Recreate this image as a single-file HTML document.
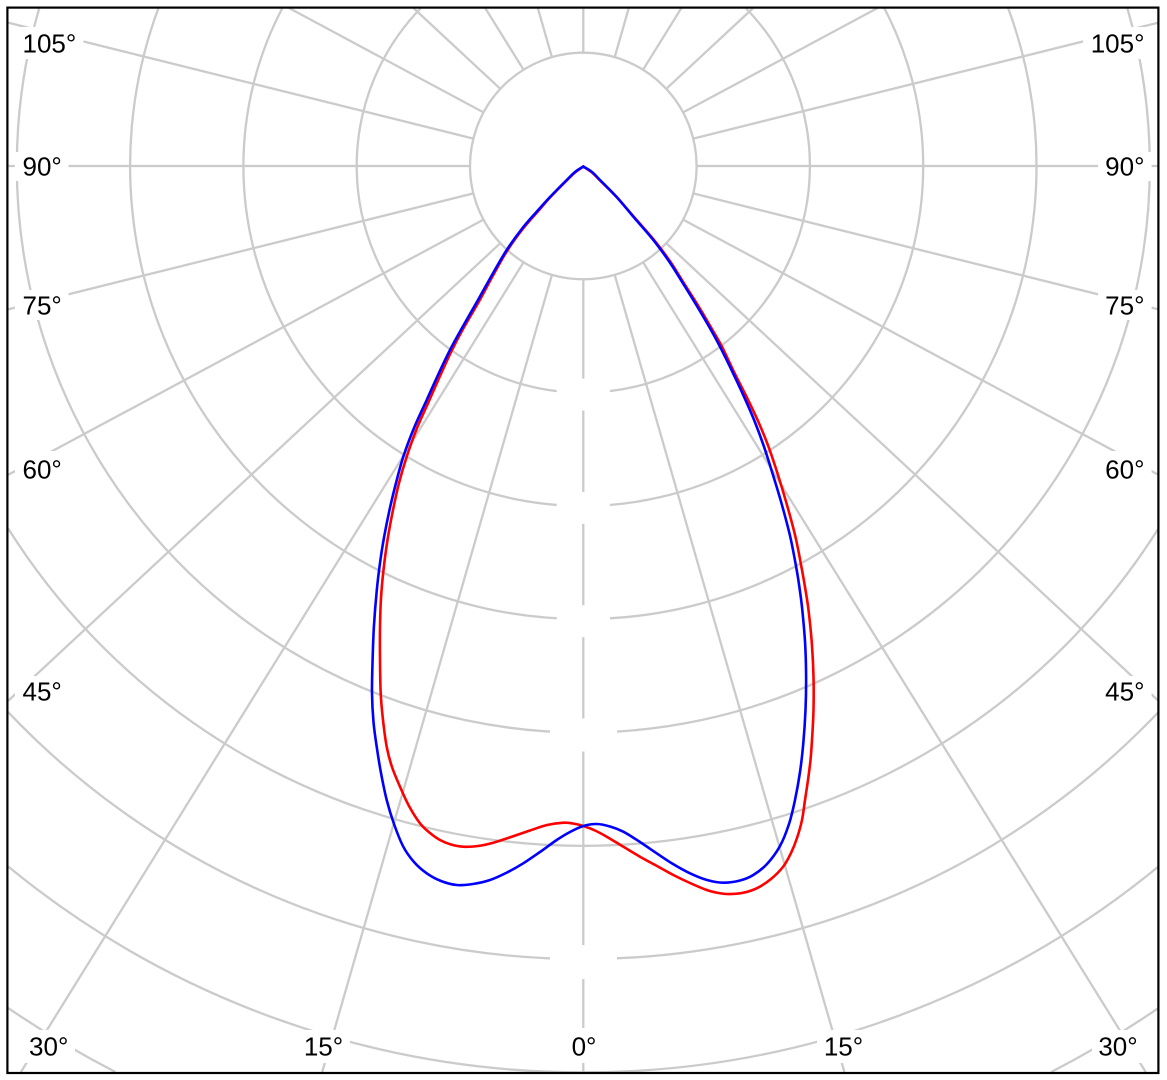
<!DOCTYPE html>
<html>
<head>
<meta charset="utf-8">
<style>
html,body{margin:0;padding:0;background:#fff;width:1167px;height:1080px;overflow:hidden;}
svg{display:block;position:absolute;left:0;top:0;}
text{font-family:"Liberation Sans",Arial,sans-serif;font-size:26px;fill:#000;}
</style>
</head>
<body>
<svg width="1167" height="1080" viewBox="0 0 1167 1080" xmlns="http://www.w3.org/2000/svg" overflow="hidden">
<rect x="0" y="0" width="1167" height="1080" fill="#fff"/>
<g fill="none" stroke="#cbcbcb" stroke-width="2.3">
  <circle cx="583.3" cy="166" r="113.3"/>
  <path d="M420.9 8 A226.6 226.6 0 1 0 745.7 8"/>
  <path d="M282.4 8 A339.9 339.9 0 1 0 884.2 8"/>
  <path d="M158.5 8 A453.2 453.2 0 1 0 1008.1 8"/>
  <path d="M39.3 8 A566.5 566.5 0 1 0 1127.3 8"/>
  <path d="M8 528.2 A679.8 679.8 0 0 0 1158.6 528.2"/>
  <path d="M8 711.9 A793.1 793.1 0 0 0 1158.6 711.9"/>
  <path d="M8 866.4 A906.4 906.4 0 0 0 1158.6 866.4"/>
  <path d="M8 1007.9 A1019.7 1019.7 0 0 0 115.4 1072"/>
  <path d="M1051.2 1072 A1019.7 1019.7 0 0 0 1158.6 1007.9"/>
  <line x1="583.3" y1="279.3" x2="583.3" y2="1072"/>
  <line x1="583.3" y1="52.7" x2="583.3" y2="8"/>
  <line x1="551.9" y1="274.9" x2="322.2" y2="1072"/>
  <line x1="523.5" y1="262.3" x2="20.9" y2="1072"/>
  <line x1="500.3" y1="243.2" x2="8" y2="701"/>
  <line x1="483.5" y1="219.6" x2="8" y2="474.9"/>
  <line x1="473.4" y1="193.4" x2="8" y2="309.4"/>
  <line x1="470" y1="166" x2="8" y2="166"/>
  <line x1="473.4" y1="138.6" x2="8" y2="22.6"/>
  <line x1="483.5" y1="112.4" x2="289" y2="8"/>
  <line x1="500.3" y1="88.8" x2="413.4" y2="8"/>
  <line x1="523.5" y1="69.7" x2="485.2" y2="8"/>
  <line x1="551.9" y1="57.1" x2="537.8" y2="8"/>
  <line x1="614.7" y1="274.9" x2="844.4" y2="1072"/>
  <line x1="643.1" y1="262.3" x2="1145.7" y2="1072"/>
  <line x1="666.3" y1="243.2" x2="1158.6" y2="701"/>
  <line x1="683.1" y1="219.6" x2="1158.6" y2="474.9"/>
  <line x1="693.2" y1="193.4" x2="1158.6" y2="309.4"/>
  <line x1="696.6" y1="166" x2="1158.6" y2="166"/>
  <line x1="693.2" y1="138.6" x2="1158.6" y2="22.6"/>
  <line x1="683.1" y1="112.4" x2="877.6" y2="8"/>
  <line x1="666.3" y1="88.8" x2="753.2" y2="8"/>
  <line x1="643.1" y1="69.7" x2="681.4" y2="8"/>
  <line x1="614.7" y1="57.1" x2="628.8" y2="8"/>
</g>
<g fill="#fff">
  <rect x="556.7" y="378.6" width="53.3" height="32"/>
  <rect x="556.7" y="491.9" width="53.3" height="32"/>
  <rect x="556.7" y="605.2" width="53.3" height="32"/>
  <rect x="550" y="718.5" width="67" height="33"/>
  <rect x="550" y="945.1" width="67" height="34"/>
  <rect x="15" y="27" width="68.5" height="32"/>
  <rect x="15" y="152" width="53.5" height="29"/>
  <rect x="15" y="290" width="53.5" height="30"/>
  <rect x="15" y="451" width="53" height="33"/>
  <rect x="15" y="676" width="54" height="32"/>
  <rect x="1083.1" y="27" width="68.5" height="32"/>
  <rect x="1098.1" y="152" width="53.5" height="29"/>
  <rect x="1098.1" y="290" width="53.5" height="30"/>
  <rect x="1098.6" y="451" width="53" height="33"/>
  <rect x="1097.6" y="676" width="54" height="32"/>
  <rect x="22" y="1030" width="53" height="33"/>
  <rect x="298" y="1030" width="52" height="33"/>
  <rect x="566" y="1028" width="35" height="35"/>
  <rect x="817" y="1030" width="52" height="33"/>
  <rect x="1092" y="1030" width="53" height="33"/>
</g>
<polyline class="crv" fill="none" stroke="#ff0000" stroke-width="2.6" stroke-linejoin="round" stroke-linecap="round" points="583.3,166.5 575,172.5 566.7,180.5 550,197.5 540,209 523.5,228 507,251 493,275.5 479.5,300.5 463,329 451.5,351 440,376 429,401 417,428 406.7,456.7 399,483 393,510 387.5,540 383.5,570 381,598 380,626.7 380,660 380.7,693.3 383,720 386.7,746.7 392,767 400,786.7 409,806 420,823.3 430,833 440,840 451,844.5 463.3,846.7 478,846 493.3,842.7 511,837 530,830.5 547,825 563.3,822.7 573,823.5 583.3,826 595,830.5 606.7,836.7 623,846.5 640,856.7 657,866 673.3,875 690,883 706.7,890 716,892.5 726.7,894 742,893 756.7,888.3 771,879 783.3,866.5 791,853 797,838 802,820 805,800 808,780 810.5,760 812,740 813.5,710 813.5,676.7 811.8,643 808.5,610 805.5,590 802,570 795.5,537 786.5,503.3 778,475 768.5,446.7 758,421 746.5,396.7 734,372 722,346.7 712.5,330 699,307 685,285 670.5,262 654,240 634,217 617,197.5 600,180.5 592,172.5 583.3,166.5"/>
<polyline class="crv" fill="none" stroke="#0000ff" stroke-width="2.6" stroke-linejoin="round" stroke-linecap="round" points="583.3,166.5 575,172 566.7,180 550,197 540,208 523.3,227 506.7,250 492,275 478,300 462,328 450,350 438,375 426.7,400 414,428 403.3,456.7 396,483 389.5,510 384.1,537 380.4,560 376.8,590 373.9,626.7 372.6,660 372,693.3 373.5,722 376.7,746.7 381,773 386.7,800 394,824 403.3,846.7 414,862 426.7,873.3 441,881 456.7,885 473,884 490,880 507,872.5 523.3,863.3 540,852 556.7,840 570,832 583.3,826 596.7,824 610,826.5 623.3,831.7 640,842 656.7,853.3 673,864 690,873.3 707,880 723.3,882.7 740,880.5 753.3,875 767,864 780,846 789,824 795,800 800,772 803.3,743.3 805.5,710 806.1,676.7 805.1,643 802.3,610 799.8,590 796.7,570 790.3,537 781.5,503.3 773,475 764,446.7 754.5,421 744,396.7 732.5,372 720,346.7 711,330 697.5,307 684,285 669.5,262 653.3,240 633.3,216.7 616.7,197 600,180 592,172 583.3,166.5"/>
<g>
 <text x="22.5" y="52.3">105°</text>
 <text x="22.5" y="175.6">90°</text>
 <text x="22.5" y="314.3">75°</text>
 <text x="22.5" y="478.5">60°</text>
 <text x="22.5" y="700.5">45°</text>
 <text x="1144.5" y="52.3" text-anchor="end">105°</text>
 <text x="1144.5" y="175.6" text-anchor="end">90°</text>
 <text x="1144.5" y="314.3" text-anchor="end">75°</text>
 <text x="1144.5" y="478.5" text-anchor="end">60°</text>
 <text x="1144.5" y="700.5" text-anchor="end">45°</text>
 <text x="48.7" y="1055.5" text-anchor="middle">30°</text>
 <text x="323.5" y="1055.5" text-anchor="middle">15°</text>
 <text x="584" y="1055.5" text-anchor="middle">0°</text>
 <text x="843.5" y="1055.5" text-anchor="middle">15°</text>
 <text x="1118" y="1055.5" text-anchor="middle">30°</text>
</g>
<rect x="7.4" y="7.6" width="1151" height="1065.4" fill="none" stroke="#000" stroke-width="2.2"/>
</svg>
<script>
(function(){
  var ns="http://www.w3.org/2000/svg";
  var pls=document.querySelectorAll("polyline.crv");
  for(var k=0;k<pls.length;k++){
    var pl=pls[k];
    var raw=pl.getAttribute("points").trim().split(/\s+/);
    var p=raw.map(function(s){var a=s.split(",");return [parseFloat(a[0]),parseFloat(a[1])];});
    var n=p.length;
    var d="M"+p[0][0]+" "+p[0][1];
    for(var i=0;i<n-1;i++){
      var p0=p[i>0?i-1:i],p1=p[i],p2=p[i+1],p3=p[i+2<n?i+2:i+1];
      var c1x=p1[0]+(p2[0]-p0[0])/6,c1y=p1[1]+(p2[1]-p0[1])/6;
      var c2x=p2[0]-(p3[0]-p1[0])/6,c2y=p2[1]-(p3[1]-p1[1])/6;
      d+=" C"+c1x.toFixed(2)+" "+c1y.toFixed(2)+" "+c2x.toFixed(2)+" "+c2y.toFixed(2)+" "+p2[0]+" "+p2[1];
    }
    var path=document.createElementNS(ns,"path");
    path.setAttribute("d",d);
    ["fill","stroke","stroke-width","stroke-linejoin","stroke-linecap"].forEach(function(a){path.setAttribute(a,pl.getAttribute(a));});
    pl.parentNode.replaceChild(path,pl);
  }
})();
</script>
</body>
</html>
